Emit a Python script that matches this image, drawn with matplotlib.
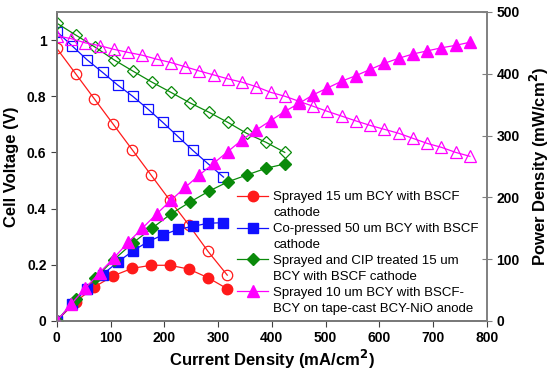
import numpy as np
import matplotlib
matplotlib.use("Agg")
import matplotlib.pyplot as plt
from matplotlib.lines import Line2D
from matplotlib.ticker import FuncFormatter

plt.rcParams['font.family'] = ['Liberation Sans', 'DejaVu Sans']

# Sprayed 15 um BCY with BSCF cathode
i_red = [0, 35, 70, 105, 140, 175, 210, 245, 281, 317]
v_red = [0.97, 0.88, 0.79, 0.70, 0.61, 0.52, 0.43, 0.343, 0.248, 0.163]
p_red = [0, 31, 55, 73, 85, 90, 90, 84, 70, 52]

# Co-pressed 50 um BCY with BSCF cathode
i_blue = [0, 28, 56, 85, 113, 141, 169, 197, 225, 253, 281, 310]
v_blue = [1.03, 0.98, 0.93, 0.885, 0.84, 0.80, 0.755, 0.707, 0.657, 0.607, 0.56, 0.512]
p_blue = [0, 27, 52, 75, 95, 113, 128, 139, 148, 153, 158, 159]

# Sprayed and CIP treated 15 um BCY with BSCF cathode
i_green = [0, 35, 71, 106, 141, 177, 212, 247, 283, 318, 353, 389, 424]
v_green = [1.06, 1.018, 0.975, 0.93, 0.89, 0.85, 0.814, 0.777, 0.743, 0.707, 0.668, 0.636, 0.60]
p_green = [0, 36, 69, 99, 126, 150, 173, 192, 210, 225, 236, 247, 254]

# Sprayed 10 um BCY with BSCF-BCY on tape-cast BCY-NiO anode
i_mag = [0, 26.5, 53, 79.5, 106, 132.5, 159, 185.5, 212, 238.5, 265, 291.5, 318, 344.5,
         371, 397.5, 424, 450.5, 477, 503.5, 530, 556.5, 583, 609.5, 636, 662.5, 689,
         715.5, 742, 768.5]
v_mag = [1.015, 1.005, 0.99, 0.98, 0.967, 0.956, 0.946, 0.932, 0.92, 0.905, 0.89, 0.876,
         0.862, 0.85, 0.834, 0.814, 0.80, 0.782, 0.764, 0.746, 0.729, 0.712, 0.696, 0.682,
         0.668, 0.65, 0.632, 0.618, 0.60, 0.586]
p_mag = [0, 27, 53, 78, 102, 127, 150, 173, 195, 216, 236, 255, 274, 293, 309, 324,
         339, 352, 366, 377, 388, 397, 407, 417, 425, 432, 437, 442, 446, 451]

labels = [("Sprayed 15 um BCY with BSCF", "cathode"),
          ("Co-pressed 50 um BCY with BSCF", "cathode"),
          ("Sprayed and CIP treated 15 um", "BCY with BSCF cathode"),
          ("Sprayed 10 um BCY with BSCF-", "BCY on tape-cast BCY-NiO anode")]

fig = plt.figure(figsize=(5.52, 3.74), dpi=100)
ax = fig.add_axes([0.103, 0.142, 0.779, 0.826])
ax2 = ax.twinx()

series = [(i_red, v_red, p_red, '#ff1a1a', 'o', 7.5),
          (i_blue, v_blue, p_blue, '#1010ff', 's', 7),
          (i_green, v_green, p_green, '#0a8a0a', 'D', 6),
          (i_mag, v_mag, p_mag, '#ff00ff', '^', 8)]

handles = []
for cur, volt, powr, col, mk, ms in series:
    ax.plot(cur, volt, color=col, lw=0.9, marker=mk, ms=ms, mfc='none', mec=col, mew=0.9)
    h, = ax2.plot(cur, powr, color=col, lw=0.9, marker=mk, ms=ms, mfc=col, mec=col)
    handles.append(h)

ax.set_xlim(0, 800)
ax.set_ylim(0, 1.1)
ax2.set_ylim(0, 500)
ax.set_xticks(np.arange(0, 801, 100))
ax.set_yticks([0, 0.2, 0.4, 0.6, 0.8, 1.0])
ax.yaxis.set_major_formatter(FuncFormatter(lambda v, p: '%g' % v))
ax2.set_yticks(np.arange(0, 501, 100))

for a in (ax, ax2):
    for s in a.spines.values():
        s.set_color('#808080')
        s.set_linewidth(1.2)
ax.spines['left'].set_color('#202020')
ax.spines['bottom'].set_color('#404040')

ax.tick_params(axis='both', labelsize=10, length=4, color='#404040', direction='out')
ax2.tick_params(axis='y', labelsize=10, length=7, color='#808080', direction='inout')
for t in ax.get_xticklabels() + ax.get_yticklabels() + ax2.get_yticklabels():
    t.set_fontweight('bold')

ax.set_xlabel("Current Density (mA/cm$^\\mathbf{2}$)", fontsize=12, fontweight='bold', labelpad=2)
ax.set_ylabel("Cell Voltage (V)", fontsize=12, fontweight='bold', labelpad=6)
ax2.set_ylabel("Power Density (mW/cm$^\\mathbf{2}$)", fontsize=12, fontweight='bold', labelpad=6)

blank = Line2D([], [], color='none')
leg_h, leg_l = [], []
for h, (l1, l2) in zip(handles, labels):
    leg_h += [h, blank]
    leg_l += [l1, l2]
ax2.legend(leg_h, leg_l, loc='upper left', bbox_to_anchor=(0.42, 0.42), frameon=False,
           fontsize=9.5, borderpad=0, borderaxespad=0, labelspacing=0.28,
           handlelength=2.3, handletextpad=0.4)

fig.savefig("out.png", dpi=100)
